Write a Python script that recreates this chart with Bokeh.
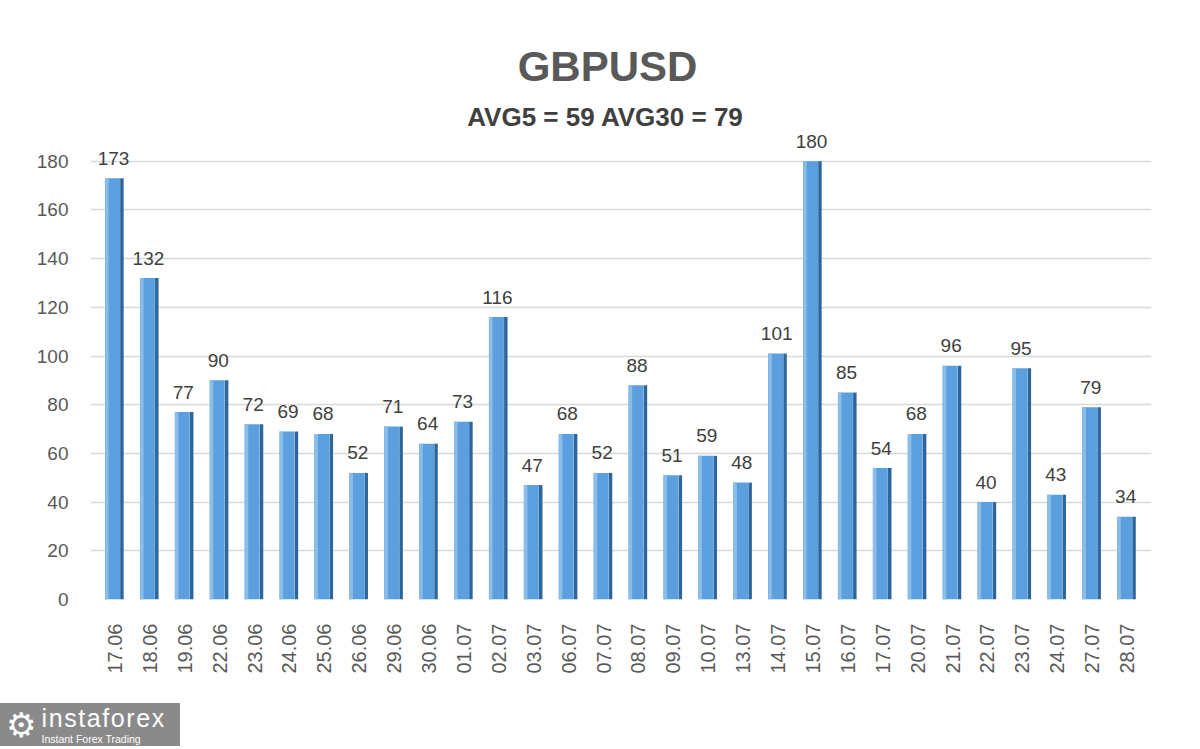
from math import pi

from bokeh.plotting import figure
from bokeh.layouts import column
from bokeh.models import ColumnDataSource, FactorRange, Range1d, FixedTicker, Label, Div
from bokeh.transform import dodge
from bokeh.core.properties import value
from bokeh.embed import file_html
from bokeh.resources import INLINE

# daily volatility (pips), GBPUSD
days = ['17.06', '18.06', '19.06', '22.06', '23.06', '24.06', '25.06', '26.06', '29.06', '30.06',
        '01.07', '02.07', '03.07', '06.07', '07.07', '08.07', '09.07', '10.07', '13.07', '14.07',
        '15.07', '16.07', '17.07', '20.07', '21.07', '22.07', '23.07', '24.07', '27.07', '28.07']
pips = [173, 132, 77, 90, 72, 69, 68, 52, 71, 64,
        73, 116, 47, 68, 52, 88, 51, 59, 48, 101,
        180, 85, 54, 68, 96, 40, 95, 43, 79, 34]
y_ticks = [0, 20, 40, 60, 80, 100, 120, 140, 160, 180]

title_text = "GBPUSD"
avg_text = "AVG5 = 59 AVG30 = 79"

FONT = "Liberation Sans"

src = ColumnDataSource(data=dict(day=days, pips=pips, lbl=[str(v) for v in pips]))

# frame runs up to the top edge so the title labels are not clipped;
# gridlines / ticks stop at 180 anyway
p = figure(width=1184, height=700, title=None, tools="", toolbar_location=None,
           x_range=FactorRange(*days, range_padding=0.2, range_padding_units="absolute"),
           y_range=Range1d(0, 246), output_backend="svg",
           min_border_left=90, min_border_right=33, min_border_top=0, min_border_bottom=101,
           background_fill_color="white", border_fill_color="white")

# bars: dark side face, front face, light left edge
p.vbar(x=dodge('day', 0.2, range=p.x_range), top='pips', width=0.1, source=src,
       fill_color="#2f6699", line_color=None)
p.vbar(x=dodge('day', -0.07, range=p.x_range), top='pips', width=0.43, source=src,
       fill_color="#5b9fdf", line_color=None)
p.vbar(x=dodge('day', -0.23, range=p.x_range), top='pips', width=0.1, source=src,
       fill_color="#8bbde9", line_color=None)

# value labels
p.text(x=dodge('day', -0.04, range=p.x_range), y='pips', text='lbl', source=src,
       text_align="center", text_baseline="alphabetic", y_offset=-20,
       text_font=value(FONT), text_font_size="19px", text_color="#404040")

p.yaxis.ticker = FixedTicker(ticks=y_ticks)
p.yaxis.axis_line_color = None
p.yaxis.major_tick_line_color = None
p.yaxis.minor_tick_line_color = None
p.yaxis.major_tick_out = 0
p.yaxis.major_tick_in = 0
p.yaxis.major_label_standoff = 22
p.yaxis.major_label_text_font = FONT
p.yaxis.major_label_text_font_size = "19px"
p.yaxis.major_label_text_color = "#595959"

p.xaxis.axis_line_color = None
p.xaxis.major_tick_line_color = None
p.xaxis.minor_tick_line_color = None
p.xaxis.major_tick_out = 0
p.xaxis.major_tick_in = 0
p.xaxis.major_label_orientation = pi / 2
p.xaxis.major_label_standoff = 24
p.xaxis.major_label_text_font = FONT
p.xaxis.major_label_text_font_size = "20px"
p.xaxis.major_label_text_color = "#595959"

p.xgrid.grid_line_color = None
p.ygrid.grid_line_color = "#d9d9d9"
p.ygrid.grid_line_width = 1.5
p.outline_line_color = None

# titles
p.add_layout(Label(x=517, y=533, x_units="screen", y_units="screen", text=title_text,
                   text_align="center", text_baseline="alphabetic", text_font=FONT,
                   text_font_size="42px", text_font_style="bold", text_color="#595959"))
p.add_layout(Label(x=515, y=483, x_units="screen", y_units="screen", text=avg_text,
                   text_align="center", text_baseline="alphabetic", text_font=FONT,
                   text_font_size="26px", text_font_style="bold", text_color="#404040"))

# logo under the chart
logo = Div(width=180, height=43, margin=(3, 0, 0, 0), text="""
<div style="display:flex;align-items:center;width:180px;height:43px;background:#8a8a8a;color:white;font-family:'Liberation Sans';">
  <div style="font-family:'DejaVu Sans';font-size:34px;line-height:34px;margin:0 5px 0 6px;">&#9881;</div>
  <div>
    <div style="font-size:25px;line-height:29px;letter-spacing:1.6px;">instaforex</div>
    <div style="font-size:10.5px;line-height:13px;">Instant Forex Trading</div>
  </div>
</div>""")

layout = column(p, logo, spacing=0)

open("out.html", "w").write(file_html(layout, INLINE))
